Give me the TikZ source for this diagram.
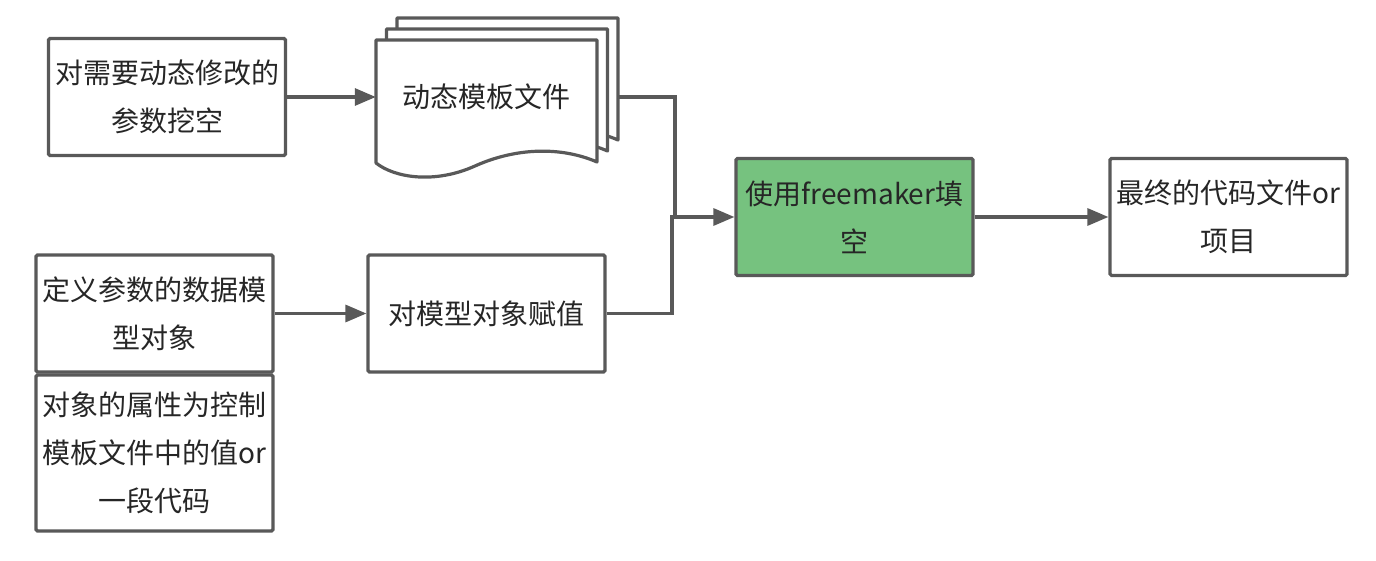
\documentclass[tikz,border=0pt]{standalone}
\usepackage{fontspec}
\setmainfont{Noto Sans CJK SC}
\usetikzlibrary{arrows.meta}
\definecolor{edge}{RGB}{89,89,89}
\definecolor{ink}{RGB}{38,38,38}
\definecolor{greenfill}{RGB}{118,194,127}
\tikzset{
  stepbox/.style={draw=edge, line width=3.2pt, rounded corners=1.5pt, fill=white,
    minimum width=237pt, minimum height=117pt, align=center, text=ink,
    inner xsep=2pt, font=\fontsize{28}{48}\selectfont},
  page/.style={draw=edge, line width=3.2pt, fill=white, line join=round},
  arrow/.style={draw=edge, line width=3.2pt, -{Triangle[length=21pt,width=17pt]}},
  link/.style={draw=edge, line width=3.2pt},
}
\begin{document}
\begin{tikzpicture}[x=1pt, y=-1pt]
		\useasboundingbox (0,0) rectangle (1376,561);
		% the input side
		\node[stepbox] (hole) at (167,97) {对需要动态修改的\\参数挖空};
		\node[stepbox] (define) at (154.5,313.5) {定义参数的数据模\\型对象};
		\node[stepbox, minimum height=156pt] (attr) at (154.5,453) {对象的属性为控制\\模板文件中的值or\\一段代码};
		\node[stepbox] (assign) at (486.5,313.5) {对模型对象赋值};
		% the stack of template pages
		\foreach \k in {2,1,0}
			\draw[page, shift={(10.5*\k,-11*\k)}] (376,40) -- (597,40) -- (597,162)
				.. controls (560,146) and (515,148) .. (475,166)
				.. controls (435,184) and (395,178) .. (376,163) -- cycle;
		\node[minimum width=221pt, text=ink, font=\fontsize{28}{48}\selectfont] (tpl) at (486.5,97) {动态模板文件};
		\coordinate (tplout) at (618,97);
		% the output side
		\node[stepbox, fill=greenfill] (fill) at (854.5,217) {使用freemaker填\\空};
		\node[stepbox] (result) at (1228.5,217) {最终的代码文件or\\项目};
		\coordinate (merge) at (672,217);
		% connectors
		\draw[arrow] (hole.east) -- (tpl.west);
		\draw[arrow] (define.east) -- (assign.west);
		\draw[link] (tplout) -| ([xshift=3pt, yshift=1pt]merge);
		\draw[arrow] (assign.east) -| (merge) -- (fill.west);
		\draw[arrow] (fill.east) -- (result.west);
	\end{tikzpicture}
\end{document}
